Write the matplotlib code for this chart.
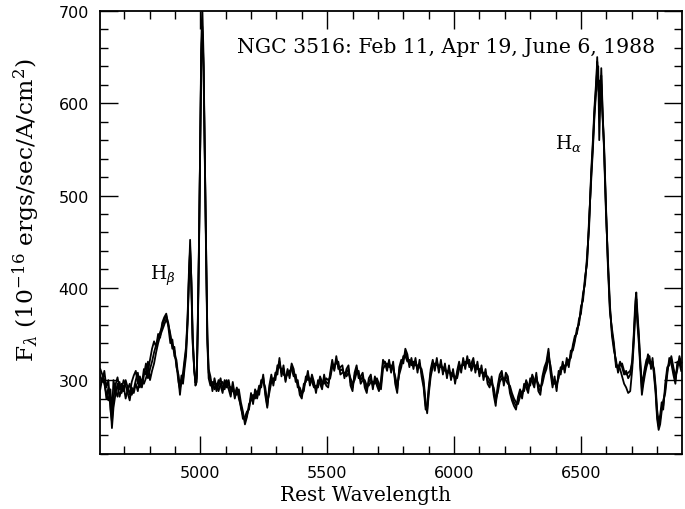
import matplotlib
matplotlib.use('Agg')
import matplotlib.pyplot as plt
import numpy as np
from matplotlib.ticker import MultipleLocator

# ---------------- data ----------------
wavelength = [
    4606, 4614, 4622, 4630, 4638, 4646, 4652, 4658, 4666, 4674, 4682, 4690, 4698, 4706, 4714, 4722, 4730, 4738, 4746, 4754, 4762, 4770, 4778, 4786, 4794,
    4802, 4810, 4818, 4826, 4834, 4842, 4850, 4858, 4866, 4874, 4882, 4890, 4898, 4906, 4914, 4920, 4926, 4932, 4938, 4944,
    4950, 4955, 4960, 4965, 4970, 4976, 4981, 4986, 4990, 4995, 5000, 5004, 5008, 5013, 5018, 5023, 5028, 5033,
    5040, 5048, 5056, 5064, 5072, 5080, 5088, 5096, 5104, 5112, 5120, 5128, 5136, 5144, 5152, 5160, 5168, 5176, 5184, 5192, 5200, 5208, 5216, 5224, 5232, 5240, 5248,
    5256, 5264, 5272, 5280, 5288, 5296, 5304, 5312, 5320, 5328, 5336, 5344, 5352, 5360, 5368, 5376, 5384, 5392, 5400, 5408, 5416, 5424, 5432, 5440, 5448, 5456, 5464, 5472, 5480, 5488, 5496,
    5504, 5512, 5520, 5528, 5536, 5544, 5552, 5560, 5568, 5576, 5584, 5592, 5600, 5608, 5616, 5624, 5632, 5640, 5648, 5656, 5664, 5672, 5680, 5688, 5696, 5704, 5712, 5720, 5728, 5736, 5744, 5752, 5760,
    5768, 5776, 5784, 5792, 5800, 5808, 5816, 5824, 5832, 5840, 5848, 5856, 5864, 5872, 5880, 5888, 5894, 5900, 5908, 5916, 5924, 5932, 5940, 5948, 5956, 5964, 5972, 5980, 5988, 5996, 6004,
    6012, 6020, 6028, 6036, 6044, 6052, 6060, 6068, 6076, 6084, 6092, 6100, 6108, 6116, 6124, 6132, 6140, 6148, 6156, 6164, 6172, 6180, 6188, 6196, 6204, 6212, 6220, 6228,
    6236, 6244, 6252, 6260, 6268, 6276, 6284, 6292, 6300, 6308, 6316, 6324, 6332, 6340, 6348, 6356, 6364, 6372, 6380, 6388, 6396, 6404, 6412, 6420, 6428, 6436, 6444, 6452, 6460, 6468,
    6476, 6484, 6492, 6500, 6508, 6516, 6524, 6532, 6540, 6547, 6553, 6559, 6564, 6568, 6572, 6576, 6580, 6585, 6591, 6598, 6606, 6614, 6622, 6630, 6638, 6646,
    6654, 6662, 6670, 6678, 6686, 6694, 6702, 6708, 6714, 6718, 6722, 6728, 6734, 6740, 6746, 6752, 6758, 6764, 6770, 6776, 6782, 6788, 6794, 6800, 6806, 6812, 6818, 6824, 6832, 6840, 6848, 6856, 6864, 6872, 6880, 6888, 6895,
]

flux_feb11 = [
    305, 298, 310, 292, 300, 268, 255, 280, 295, 303, 290, 296, 288, 300, 292, 284, 298, 305, 310, 296, 300, 292, 305, 318, 302,
    312, 320, 330, 338, 345, 352, 358, 365, 370, 362, 348, 338, 332, 318, 298, 290, 305, 300, 318, 332,
    365, 410, 452, 405, 345, 312, 297, 302, 355, 445, 560, 655, 683, 640, 540, 440, 345, 308,
    300, 292, 298, 288, 295, 302, 290, 297, 292, 300, 286, 294, 280, 290, 284, 270, 262, 256, 262, 270, 282, 278, 286, 280, 290, 296, 303,
    288, 272, 290, 302, 298, 305, 312, 320, 308, 312, 300, 310, 306, 315, 308, 302, 296, 288, 283, 292, 300, 306, 298, 302, 295, 290, 296, 300, 294, 302, 298,
    296, 305, 318, 312, 322, 316, 310, 312, 305, 308, 312, 298, 292, 305, 312, 306, 300, 304, 296, 290, 298, 302, 294, 300, 298, 292, 295, 318, 320, 314, 318, 312, 316,
    300, 290, 310, 318, 322, 330, 324, 318, 320, 316, 320, 312, 318, 308, 296, 272, 268, 288, 308, 318, 314, 320, 312, 318, 310, 314, 306, 312, 304, 308, 300,
    306, 316, 312, 320, 316, 322, 318, 314, 320, 312, 316, 308, 312, 304, 308, 300, 296, 300, 288, 276, 290, 302, 306, 298, 304, 300, 290, 282,
    276, 272, 278, 286, 284, 292, 296, 290, 298, 302, 296, 304, 292, 288, 300, 310, 316, 330, 312, 296, 300, 292, 306, 310, 316, 312, 320, 318, 328, 335,
    345, 352, 362, 376, 390, 408, 430, 470, 520, 555, 590, 615, 645, 628, 595, 618, 630, 590, 552, 490, 428, 378, 352, 336, 318, 312,
    320, 314, 306, 310, 302, 306, 322, 350, 385, 395, 375, 350, 320, 290, 300, 310, 318, 328, 322, 316, 320, 308, 290, 262, 250, 258, 270, 272, 290, 310, 320, 322, 310, 300, 316, 322, 314,
]

flux_apr19 = [
    290, 302, 296, 285, 278, 290, 262, 300, 288, 282, 298, 286, 294, 280, 290, 296, 284, 290, 300, 308, 292, 300, 296, 302, 310,
    322, 334, 342, 336, 350, 346, 362, 368, 372, 358, 340, 344, 326, 322, 302, 284, 300, 296, 312, 326,
    360, 405, 445, 400, 340, 315, 294, 298, 350, 440, 565, 665, 705, 650, 545, 430, 340, 302,
    294, 298, 290, 296, 288, 296, 298, 290, 300, 294, 292, 288, 286, 284, 290, 276, 266, 252, 260, 274, 278, 284, 280, 288, 284, 300, 298,
    292, 276, 286, 298, 302, 300, 316, 314, 312, 306, 304, 306, 310, 312, 304, 306, 292, 292, 286, 288, 304, 300, 302, 298, 292, 294, 292, 304, 298, 296, 302,
    300, 302, 314, 316, 318, 320, 306, 308, 308, 304, 308, 302, 296, 300, 308, 310, 296, 300, 300, 294, 294, 298, 298, 296, 302, 296, 290, 312, 316, 318, 314, 316, 312,
    304, 294, 306, 314, 326, 326, 320, 322, 316, 320, 316, 316, 314, 312, 300, 276, 264, 284, 304, 314, 318, 316, 316, 314, 314, 310, 310, 308, 308, 304, 304,
    302, 312, 316, 316, 320, 318, 322, 310, 316, 316, 312, 312, 308, 308, 304, 304, 300, 296, 292, 280, 286, 298, 302, 302, 300, 296, 294, 286,
    280, 276, 274, 282, 288, 288, 300, 294, 294, 306, 300, 300, 296, 292, 296, 306, 312, 324, 316, 300, 296, 296, 302, 314, 312, 316, 316, 322, 324, 338,
    348, 350, 366, 372, 394, 404, 434, 465, 525, 560, 595, 620, 635, 640, 560, 600, 638, 595, 548, 485, 432, 382, 348, 332, 322, 308,
    316, 318, 310, 306, 308, 310, 318, 345, 378, 388, 370, 346, 316, 296, 304, 314, 322, 324, 318, 320, 316, 312, 294, 268, 255, 262, 276, 268, 296, 314, 316, 326, 314, 304, 312, 326, 318,
]

flux_jun06 = [
    312, 306, 300, 280, 292, 276, 248, 270, 285, 296, 282, 290, 300, 294, 286, 278, 292, 286, 296, 288, 304, 296, 312, 306, 320,
    300, 310, 318, 330, 340, 348, 354, 360, 366, 360, 350, 334, 336, 314, 306, 292, 298, 308, 322, 336,
    368, 415, 440, 410, 350, 310, 300, 305, 360, 450, 555, 650, 678, 635, 535, 445, 350, 312,
    304, 288, 302, 292, 300, 294, 286, 300, 296, 290, 282, 298, 284, 292, 280, 272, 258, 260, 266, 268, 286, 274, 290, 284, 294, 292, 306,
    284, 270, 294, 306, 294, 308, 306, 324, 304, 316, 298, 312, 302, 318, 312, 298, 300, 284, 280, 296, 298, 310, 294, 306, 298, 286, 300, 296, 290, 306, 294,
    292, 308, 322, 310, 326, 312, 314, 316, 302, 312, 316, 294, 288, 308, 316, 302, 304, 308, 292, 286, 302, 306, 290, 304, 294, 288, 300, 322, 318, 310, 322, 308, 320,
    296, 286, 314, 322, 318, 334, 328, 314, 324, 312, 324, 308, 322, 304, 292, 268, 272, 292, 312, 322, 310, 324, 308, 322, 306, 318, 302, 316, 300, 312, 296,
    310, 320, 308, 324, 312, 326, 314, 318, 324, 308, 320, 304, 316, 300, 312, 296, 292, 304, 284, 272, 294, 306, 310, 294, 308, 304, 286, 278,
    272, 268, 282, 290, 280, 296, 292, 286, 302, 298, 292, 308, 288, 284, 304, 314, 320, 334, 308, 292, 304, 288, 310, 306, 320, 308, 324, 314, 332, 332,
    342, 356, 360, 380, 386, 412, 426, 475, 515, 550, 585, 610, 650, 615, 610, 625, 620, 585, 555, 495, 424, 374, 356, 340, 314, 316,
    312, 304, 296, 292, 286, 288, 312, 340, 372, 380, 362, 340, 312, 284, 296, 306, 314, 320, 326, 312, 324, 304, 286, 258, 246, 252, 266, 278, 286, 306, 324, 318, 306, 296, 320, 318, 310,
]

title_text = "NGC 3516: Feb 11, Apr 19, June 6, 1988"
x_label = "Rest Wavelength"
y_label = r"F$_\lambda$ (10$^{-16}$ ergs/sec/A/cm$^2$)"

# ---------------- figure ----------------
plt.rcParams['mathtext.fontset'] = 'dejavuserif'
serif = 'DejaVu Serif'

fig = plt.figure(figsize=(6.85, 5.10), dpi=100)
ax = fig.add_axes([0.146, 0.108, 0.8496, 0.8686])

for flux in (flux_feb11, flux_apr19, flux_jun06):
    ax.plot(wavelength, flux, color='black', lw=1.3)

ax.set_xlim(4605, 6898)
ax.set_ylim(220, 700)

ax.xaxis.set_major_locator(MultipleLocator(500))
ax.xaxis.set_minor_locator(MultipleLocator(100))
ax.yaxis.set_major_locator(MultipleLocator(100))
ax.yaxis.set_minor_locator(MultipleLocator(20))
ax.tick_params(which='both', direction='in', top=True, right=True, color='black')
ax.tick_params(which='major', length=13, width=1.0, pad=8, labelsize=11.5)
ax.tick_params(which='minor', length=5.5, width=1.0)
for lab in ax.get_xticklabels() + ax.get_yticklabels():
    lab.set_fontfamily('DejaVu Sans')
for sp in ax.spines.values():
    sp.set_linewidth(1.3)

fig.text(365 / 685, 1 - 501 / 510, x_label, family=serif, fontsize=14.4,
         ha='center', va='baseline')
fig.text(26 / 685, 1 - 210 / 510, y_label, family=serif, fontsize=16.8,
         ha='center', va='center', rotation=90)

ax.text(0.594, 656, title_text, transform=ax.get_yaxis_transform(), family=serif,
        fontsize=14.7, ha='center', va='baseline')
ax.text(4803, 410, r"H$_\beta$", family=serif, fontsize=13.5, ha='left', va='baseline')
ax.text(6398, 552, r"H$_\alpha$", family=serif, fontsize=13.5, ha='left', va='baseline')

fig.savefig('out.png', dpi=100)
